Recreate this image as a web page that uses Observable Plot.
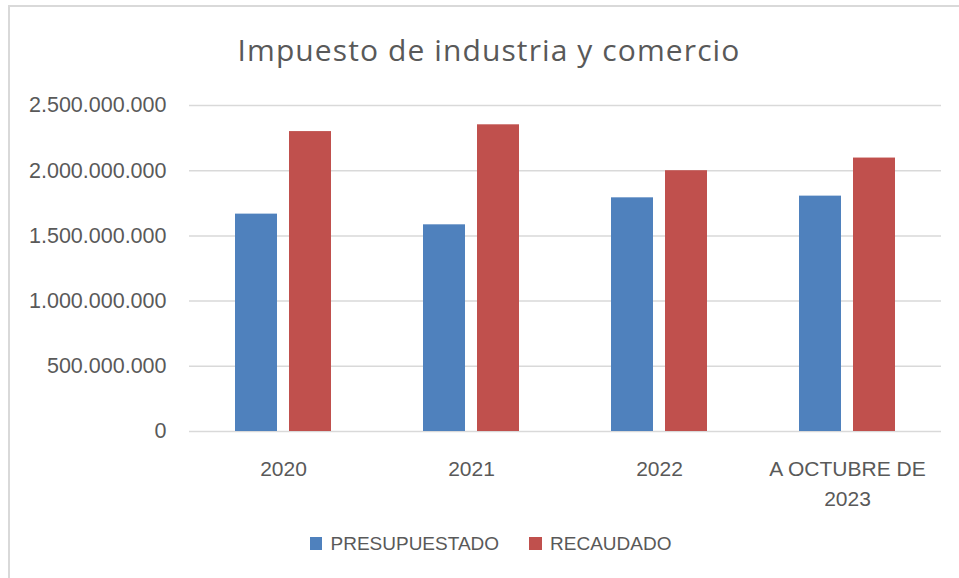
<!DOCTYPE html>
<html>
<head>
<meta charset="utf-8">
<script src="https://cdn.jsdelivr.net/npm/d3@7"></script>
<script src="https://cdn.jsdelivr.net/npm/@observablehq/plot@0.6"></script>
<style>
  html, body { margin: 0; padding: 0; background: #ffffff; }
  #wrap { position: relative; width: 959px; height: 578px; overflow: hidden; background: #ffffff; }
  #frame { position: absolute; left: 8px; top: 5px; width: 980px; height: 600px;
           border-left: 2px solid #d9d9d9; border-top: 2px solid #d9d9d9; pointer-events: none; }
  #title { box-sizing: border-box; height: 90px; padding-top: 35px; width: 978px;
           text-align: center; font-family: "Open Sans", sans-serif; font-size: 30px;
           line-height: 29px; letter-spacing: 1.1px; color: #595959; white-space: nowrap; }
  #chart svg { display: block; }
  #legend { box-sizing: border-box; height: 58px; width: 959px; padding-top: 14px; padding-left: 22px;
            text-align: center; font-family: "Liberation Sans", Arial, sans-serif; font-size: 19px;
            line-height: 20px; color: #595959; white-space: nowrap; }
  .sw { display: inline-block; width: 12.6px; height: 12.6px; margin-right: 8.4px; }
  .item { display: inline-block; }
  .item + .item { margin-left: 30px; }
</style>
</head>
<body>
<div id="wrap">
  <div id="title"></div>
  <div id="chart"></div>
  <div id="legend"></div>
  <div id="frame"></div>
</div>
<script>
const chartTitle = "Impuesto de industria y comercio";
const categories = ["2020", "2021", "2022", "A OCTUBRE DE 2023"];
const xTickLabels = ["2020", "2021", "2022", "A OCTUBRE DE\n2023"];
const presupuestado = [1667000000, 1585000000, 1792000000, 1805000000];
const recaudado = [2300000000, 2352000000, 2000000000, 2097000000];
const seriesNames = ["PRESUPUESTADO", "RECAUDADO"];
const seriesColors = ["#4F81BD", "#C0504D"];
const yTicks = [0, 500000000, 1000000000, 1500000000, 2000000000, 2500000000];

const rows = categories.map((c, i) => ({cat: c, p: presupuestado[i], r: recaudado[i]}));
const esFmt = d3.formatLocale({decimal: ",", thousands: ".", grouping: [3], currency: ["$", ""]}).format(",.0f");

document.getElementById("title").textContent = chartTitle;

const chart = Plot.plot({
  width: 959,
  height: 430,
  marginLeft: 189,
  marginRight: 18,
  marginTop: 15,
  marginBottom: 89,
  style: {fontFamily: "'Liberation Sans', Arial, sans-serif", color: "#595959", background: "#ffffff"},
  x: {domain: categories, paddingInner: 0.4894, paddingOuter: 0.2447, label: null},
  y: {domain: [0, 2500000000], label: null},
  marks: [
    Plot.ruleY(yTicks, {stroke: "#d9d9d9", strokeWidth: 1.5}),
    Plot.barY(rows, {x: "cat", y: "p", fill: seriesColors[0], insetRight: 54}),
    Plot.barY(rows, {x: "cat", y: "r", fill: seriesColors[1], insetLeft: 54}),
    Plot.axisY(yTicks, {tickSize: 0, tickPadding: 23, tickFormat: esFmt, fontSize: 21.5, label: null}),
    Plot.axisX({tickSize: 0, tickPadding: 23, fontSize: 21, lineHeight: 1.43, label: null,
                tickFormat: d => xTickLabels[categories.indexOf(d)]})
  ]
});
document.getElementById("chart").appendChild(chart);

const legend = document.getElementById("legend");
seriesNames.forEach((name, i) => {
  const item = document.createElement("span");
  item.className = "item";
  const sw = document.createElement("span");
  sw.className = "sw";
  sw.style.background = seriesColors[i];
  item.appendChild(sw);
  item.appendChild(document.createTextNode(name));
  legend.appendChild(item);
});
</script>
</body>
</html>
